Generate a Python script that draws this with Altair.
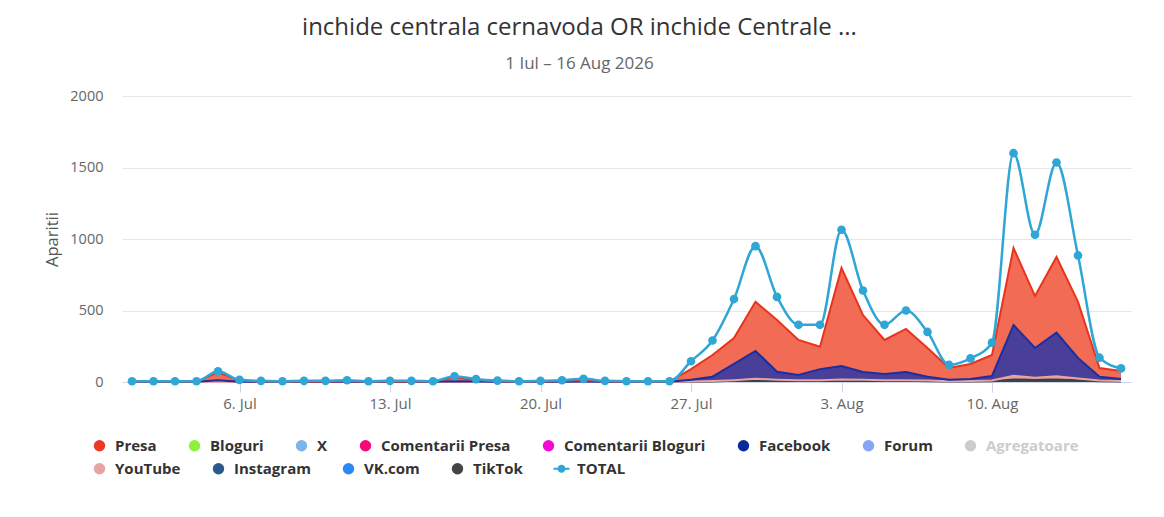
import altair as alt
import pandas as pd

dates = [d.strftime("%Y-%m-%dT00:00:00") for d in pd.date_range("2026-07-01", "2026-08-16", freq="D")]

series_names = ["Presa", "Bloguri", "X", "Comentarii Presa", "Comentarii Bloguri", "Facebook",
                "Forum", "Agregatoare", "YouTube", "Instagram", "VK.com", "TikTok", "TOTAL"]
legend_colors = ["#ec3a22", "#8cf03c", "#7cb5ec", "#f7087a", "#f10cd6", "#0a2a9c",
                 "#86a6f5", "#cccccc", "#e8a3a3", "#2b5a8a", "#2b87f2", "#3f3f3f", "#2fa6d5"]
# area fill colours (same order as series_names)
area_fill = ["#f26b55", "#8cf03c", "#7cb5ec", "#f7087a", "#f10cd6", "#4a3f98",
             "#86a6f5", "#cccccc", "#e8a3a3", "#2b5a8a", "#2b87f2", "#444444", "#2fa6d5"]
row1 = series_names[:8]
row2 = series_names[8:]

# stacked series (bottom -> top)
stack_names = ["TikTok", "YouTube", "Facebook", "Presa"]
line_colors = ["#3f3f3f", "#e8a3a3", "#1a2fa0", "#e8341c"]

presa = [2, 2, 2, 2, 55, 6, 3, 2, 3, 3, 5, 2, 3, 3, 2, 28, 10, 4, 2, 3, 5, 10, 3, 2, 2, 2,
         75, 152, 182, 344, 362, 245, 157, 685, 398, 238, 301, 201, 83, 105, 147, 538, 363, 529, 392, 61, 56]
facebook = [1, 1, 1, 1, 12, 2, 1, 1, 1, 1, 2, 1, 1, 1, 1, 5, 3, 1, 1, 1, 2, 3, 1, 1, 1, 1,
            12, 30, 113, 195, 56, 36, 77, 94, 54, 43, 57, 27, 10, 14, 31, 356, 208, 305, 144, 26, 14]
youtube = [0] * 26 + [1, 3, 5, 10, 6, 5, 5, 8, 6, 5, 5, 4, 2, 3, 5, 25, 15, 22, 12, 5, 3]
tiktok = [0] * 26 + [2, 4, 8, 12, 10, 8, 8, 10, 10, 8, 8, 6, 3, 4, 6, 18, 15, 18, 12, 6, 4]
total = [5, 5, 5, 5, 75, 15, 8, 5, 8, 8, 12, 5, 8, 8, 5, 40, 20, 10, 5, 8, 12, 22, 8, 5, 5, 5,
         145, 290, 580, 950, 595, 400, 400, 1065, 640, 400, 500, 350, 120, 165, 275, 1600, 1030, 1535, 885, 170, 95]

tick_dates = ["2026-07-06", "2026-07-13", "2026-07-20", "2026-07-27", "2026-08-03", "2026-08-10"]
y_ticks = [0, 500, 1000, 1500, 2000]

values = {"TikTok": tiktok, "YouTube": youtube, "Facebook": facebook, "Presa": presa}
rows = []
for k, name in enumerate(stack_names):
    for d, v in zip(dates, values[name]):
        rows.append({"date": d, "series": name, "value": v, "ord": k})
stack_df = pd.DataFrame(rows)
total_df = pd.DataFrame({"date": dates, "value": total, "serie": "TOTAL"})

FONT = "Open Sans"
TOTAL_SYMBOL = ("M-1.4,-0.17L1.4,-0.17L1.4,0.17L-1.4,0.17Z "
                "M-0.7,0A0.7,0.7,0,1,1,0.7,0A0.7,0.7,0,1,1,-0.7,0Z")


def make_legend(vals, lx, ly):
    return alt.Legend(
        title=None, orient="none", legendX=lx, legendY=ly,
        direction="horizontal", values=vals,
        columnPadding=30, labelOffset=8,
        labelFont=FONT, labelFontSize=15, labelFontWeight="bold",
        labelColor=alt.ExprRef("datum.value == 'Agregatoare' ? '#cccccc' : '#333333'"),
        symbolType=alt.ExprRef("datum.value == 'TOTAL' ? '" + TOTAL_SYMBOL + "' : 'circle'"),
        symbolSize=130, symbolStrokeWidth=0, symbolOpacity=1, labelLimit=300,
    )


# fill scale uses a different domain order so that its legend is kept separate
fill_domain = row2 + row1
fill_range = area_fill[8:] + area_fill[:8]

x_enc = alt.X("date:T", title=None,
              scale=alt.Scale(padding=10),
              axis=alt.Axis(values=[alt.DateTime(year=int(t[:4]), month=int(t[5:7]), date=int(t[8:])) for t in tick_dates],
                            format="%-d. %b", labelFontSize=15, labelColor="#666666",
                            domainColor="#ccd6eb", tickColor="#ccd6eb", tickSize=10,
                            labelPadding=4, grid=False, labelFont=FONT))
y_scale = alt.Scale(domain=[0, 2000], nice=False)
y_axis = alt.Axis(values=y_ticks, format="d", title="Aparitii", titleFontSize=16.5, titleColor="#555555",
                  titleFontWeight="normal", titleFont=FONT, labelFont=FONT,
                  labelFontSize=14.5, labelColor="#666666", domain=False, ticks=False,
                  labelPadding=19, titlePadding=9, gridColor="#e6e6e6")

base_stack = alt.Chart(stack_df).transform_stack(
    stack="value", groupby=["date"], as_=["bottom", "top"], sort=[alt.SortField("ord")]
)

areas = base_stack.mark_area(opacity=1).encode(
    x=x_enc,
    y=alt.Y("top:Q", scale=y_scale, axis=y_axis),
    y2="bottom:Q",
    fill=alt.Fill("series:N", scale=alt.Scale(domain=fill_domain, range=fill_range),
                  legend=make_legend(row2, -30, 365)),
    order=alt.Order("ord:Q"),
)

tops = base_stack.mark_line(strokeWidth=2).encode(
    x="date:T",
    y=alt.Y("top:Q"),
    stroke=alt.Stroke("series:N", scale=alt.Scale(domain=stack_names, range=line_colors), legend=None),
)

total_line = alt.Chart(total_df).mark_line(strokeWidth=2.5, interpolate="monotone", color="#2fa6d5").encode(
    x="date:T",
    y="value:Q",
)

total_pts = alt.Chart(total_df).mark_point(filled=True, size=75, opacity=1).encode(
    x="date:T",
    y="value:Q",
    color=alt.Color("serie:N", scale=alt.Scale(domain=series_names, range=legend_colors),
                    legend=make_legend(row1, -30, 342)),
)

chart = alt.layer(areas, tops, total_line, total_pts).properties(
    width=1009, height=286,
    title=alt.TitleParams(
        "inchide centrala cernavoda OR inchide Centrale ...",
        subtitle="1 Iul \u2013 16 Aug 2026",
        font=FONT, fontSize=24, fontWeight="normal", color="#333333",
        subtitleFont=FONT, subtitleFontSize=17, subtitleColor="#666666",
        subtitlePadding=16, offset=16, anchor="middle", dx=-47,
    ),
    padding={"left": 36, "top": 8, "right": 20, "bottom": 10},
).configure(background="white").configure_view(stroke=None)

chart.save("out.html", embed_options={"renderer": "svg", "actions": False})
